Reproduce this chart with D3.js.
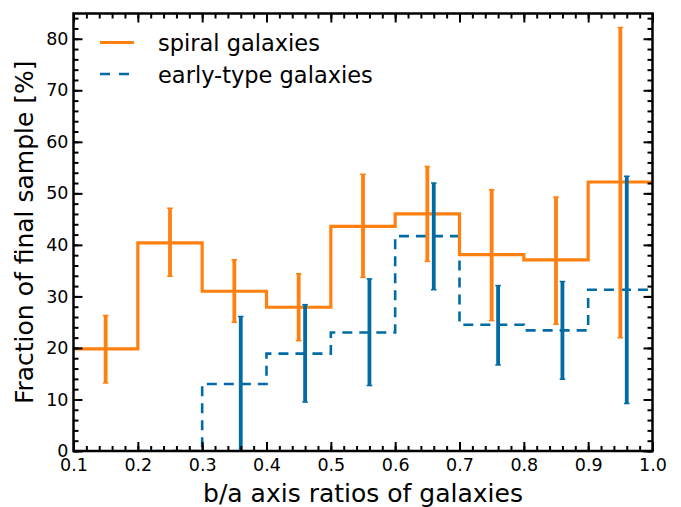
<!DOCTYPE html>
<html>
<head>
<meta charset="utf-8">
<script src="https://cdn.jsdelivr.net/npm/d3@7"></script>
<style>
  body { margin: 0; background: #fff; }
  svg { display: block; font-family: "DejaVu Sans", sans-serif; }
</style>
</head>
<body>
<svg id="chart" width="681" height="507"></svg>
<script>
// Bin edges of the b/a histogram
const binEdges = [0.1, 0.2, 0.3, 0.4, 0.5, 0.6, 0.7, 0.8, 0.9, 1.0];

// Spiral galaxies: fraction per bin and error-bar range
const spiralValues = [19.8, 40.4, 31.0, 27.9, 43.6, 46.0, 38.1, 37.1, 52.2];
const spiralErrX   = [0.15, 0.25, 0.35, 0.45, 0.55, 0.65, 0.75, 0.85, 0.95];
const spiralLow    = [13.2, 33.9, 25.0, 21.4, 33.7, 36.8, 25.3, 24.6, 22.0];
const spiralHigh   = [26.3, 47.1, 37.1, 34.4, 53.7, 55.2, 50.7, 49.3, 82.2];

// Early-type galaxies (no entry for the first bin)
const earlyEdges  = [0.2, 0.3, 0.4, 0.5, 0.6, 0.7, 0.8, 0.9, 1.0];
const earlyValues = [0.0, 13.0, 18.9, 23.0, 41.7, 24.5, 23.4, 31.3];
const earlyErrX   = [0.36, 0.46, 0.56, 0.66, 0.76, 0.86, 0.96];
const earlyLow    = [0.0, 9.5, 12.7, 31.3, 16.7, 13.9, 9.2];
const earlyHigh   = [26.1, 28.4, 33.4, 52.0, 32.1, 32.9, 53.3];

const xTicks = [0.1, 0.2, 0.3, 0.4, 0.5, 0.6, 0.7, 0.8, 0.9, 1.0];
const yTicks = [0, 10, 20, 30, 40, 50, 60, 70, 80];

const orange = "#FF800E";
const blue = "#006BA4";
const dashPattern = "10,7";

const svg = d3.select("#chart");
const margin = { left: 73.5, right: 28.5, top: 13.5, bottom: 56 };
const W = 681, H = 507;
const yMax = 84.9;
const x = d3.scaleLinear().domain([0.1, 1.0]).range([margin.left, W - margin.right]);
const y = d3.scaleLinear().domain([0, yMax]).range([H - margin.bottom, margin.top]);

// Step line: value held across each bin
function stepPoints(edges, vals) {
  const pts = [];
  vals.forEach((v, i) => { pts.push([edges[i], v]); pts.push([edges[i + 1], v]); });
  return pts;
}
const line = d3.line().x(d => x(d[0])).y(d => y(d[1]));

svg.append("clipPath").attr("id", "plotclip").append("rect")
  .attr("x", x(0.1)).attr("y", y(yMax))
  .attr("width", x(1.0) - x(0.1)).attr("height", y(0) - y(yMax));
const plot = svg.append("g").attr("clip-path", "url(#plotclip)");

// Early-type dashed histogram
plot.append("path")
  .attr("d", line(stepPoints(earlyEdges, earlyValues)))
  .attr("fill", "none").attr("stroke", blue).attr("stroke-width", 2.6)
  .attr("stroke-dasharray", dashPattern);

// Spiral solid histogram
plot.append("path")
  .attr("d", line(stepPoints(binEdges, spiralValues)))
  .attr("fill", "none").attr("stroke", orange).attr("stroke-width", 3.2);

// Error bars
function errorBars(xs, lo, hi, color, w) {
  const g = plot.append("g");
  xs.forEach((xv, i) => {
    g.append("line").attr("x1", x(xv)).attr("x2", x(xv))
      .attr("y1", y(lo[i])).attr("y2", y(hi[i]))
      .attr("stroke", color).attr("stroke-width", w);
    [lo[i], hi[i]].forEach(v => {
      g.append("line").attr("x1", x(xv) - 2.8).attr("x2", x(xv) + 2.8)
        .attr("y1", y(v)).attr("y2", y(v))
        .attr("stroke", color).attr("stroke-width", 1.5);
    });
  });
}
errorBars(spiralErrX, spiralLow, spiralHigh, orange, 3.8);
errorBars(earlyErrX, earlyLow, earlyHigh, blue, 3.8);

// Axes with inward ticks on all four sides
const xMinor = d3.range(0.1, 1.0001, 0.02);
const yMinor = d3.range(0, yMax, 2);
const axesG = svg.append("g");

function drawAxis(axis, pos) {
  const g = axesG.append("g").attr("transform", pos).call(axis);
  g.select(".domain").remove();
  g.selectAll(".tick line").attr("stroke", "#000").attr("stroke-width", 2);
  g.selectAll(".tick text").attr("font-size", 17.5).attr("fill", "#000")
    .attr("font-family", "DejaVu Sans");
  return g;
}
const xFmt = d3.format(".1f");

// bottom
drawAxis(d3.axisBottom(x).tickValues(xTicks).tickSize(-9).tickPadding(8).tickFormat(xFmt),
  `translate(0,${y(0)})`);
drawAxis(d3.axisBottom(x).tickValues(xMinor).tickSize(-5).tickFormat(""), `translate(0,${y(0)})`);
// top
drawAxis(d3.axisTop(x).tickValues(xTicks).tickSize(-9).tickFormat(""), `translate(0,${y(yMax)})`);
drawAxis(d3.axisTop(x).tickValues(xMinor).tickSize(-5).tickFormat(""), `translate(0,${y(yMax)})`);
// left
drawAxis(d3.axisLeft(y).tickValues(yTicks).tickSize(-9).tickPadding(5), `translate(${x(0.1)},0)`);
drawAxis(d3.axisLeft(y).tickValues(yMinor).tickSize(-5).tickFormat(""), `translate(${x(0.1)},0)`);
// right
drawAxis(d3.axisRight(y).tickValues(yTicks).tickSize(-9).tickFormat(""), `translate(${x(1.0)},0)`);
drawAxis(d3.axisRight(y).tickValues(yMinor).tickSize(-5).tickFormat(""), `translate(${x(1.0)},0)`);

// Frame
svg.append("rect")
  .attr("x", x(0.1)).attr("y", y(yMax))
  .attr("width", x(1.0) - x(0.1)).attr("height", y(0) - y(yMax))
  .attr("fill", "none").attr("stroke", "#000").attr("stroke-width", 2.5);

// Axis labels
svg.append("text")
  .attr("x", (x(0.1) + x(1.0)) / 2).attr("y", 501.5)
  .attr("text-anchor", "middle").attr("font-size", 25).attr("fill", "#000")
  .text("b/a axis ratios of galaxies");
svg.append("text")
  .attr("transform", `translate(33,${(y(0) + y(yMax)) / 2}) rotate(-90)`)
  .attr("text-anchor", "middle").attr("font-size", 25).attr("fill", "#000")
  .text("Fraction of final sample [%]");

// Legend
const legend = svg.append("g");
const legendItems = [
  { label: "spiral galaxies", color: orange, dash: null, w: 3.2 },
  { label: "early-type galaxies", color: blue, dash: "10,9", w: 2.6 }
];
legendItems.forEach((it, i) => {
  const ly = 42.5 + i * 31.5;
  legend.append("line").attr("x1", 100).attr("x2", 134).attr("y1", ly).attr("y2", ly)
    .attr("stroke", it.color).attr("stroke-width", it.w)
    .attr("stroke-dasharray", it.dash);
  legend.append("text").attr("x", 158).attr("y", ly + 8.5)
    .attr("font-size", 22.5).attr("fill", "#000").text(it.label);
});
</script>
</body>
</html>
